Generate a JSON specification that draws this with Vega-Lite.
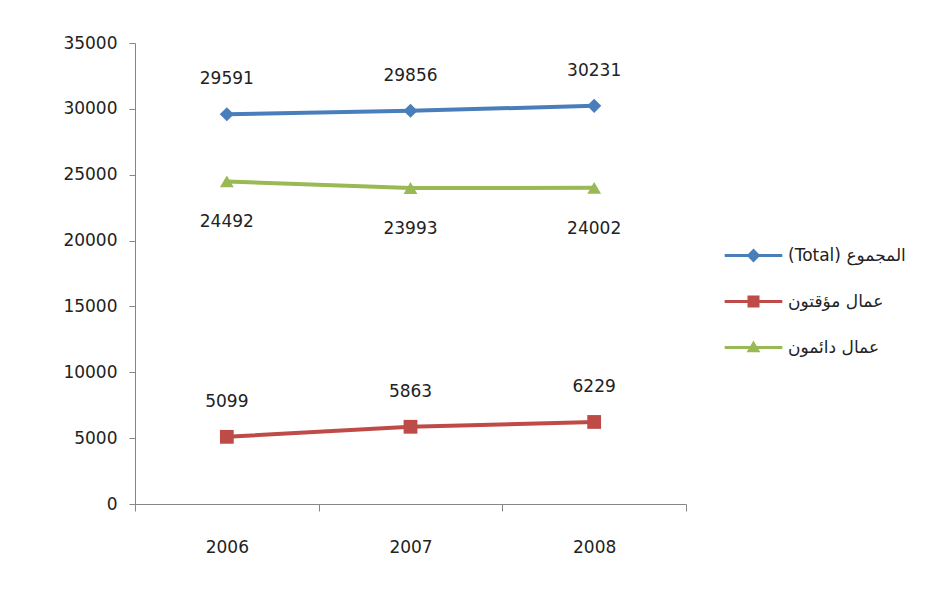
{
  "$schema": "https://vega.github.io/schema/vega-lite/v6.json",
  "width": 551,
  "height": 461,
  "autosize": {"type": "none"},
  "padding": {"left": 135, "top": 43, "right": 266, "bottom": 103},
  "background": "white",
  "config": {
    "view": {"stroke": null},
    "font": "DejaVu Sans",
    "axis": {"labelFont": "DejaVu Sans", "labelFontSize": 17, "labelColor": "#222", "domainColor": "#868686", "tickColor": "#868686", "grid": false, "title": null}
  },
  "data": {
    "values": [
      {"year": "2006", "series": "(Total) المجموع", "value": 29591},
      {"year": "2007", "series": "(Total) المجموع", "value": 29856},
      {"year": "2008", "series": "(Total) المجموع", "value": 30231},
      {"year": "2006", "series": "عمال مؤقتون", "value": 5099},
      {"year": "2007", "series": "عمال مؤقتون", "value": 5863},
      {"year": "2008", "series": "عمال مؤقتون", "value": 6229},
      {"year": "2006", "series": "عمال دائمون", "value": 24492},
      {"year": "2007", "series": "عمال دائمون", "value": 23993},
      {"year": "2008", "series": "عمال دائمون", "value": 24002}
    ]
  },
  "encoding": {
    "x": {"field": "year", "type": "nominal", "scale": {"type": "band", "paddingInner": 0, "paddingOuter": 0},
      "axis": {"labelAngle": 0, "tickBand": "extent", "tickSize": 7, "labelPadding": 28, "domainWidth": 1}},
    "y": {"field": "value", "type": "quantitative", "scale": {"domain": [0, 35000], "nice": false},
      "axis": {"values": [0, 5000, 10000, 15000, 20000, 25000, 30000, 35000], "tickSize": 6, "labelPadding": 12, "format": "d"}},
    "color": {"field": "series", "type": "nominal",
      "scale": {"domain": ["(Total) المجموع", "عمال مؤقتون", "عمال دائمون"], "range": ["#4A7EBB", "#BE4B48", "#98B954"]},
      "legend": {
        "title": null, "orient": "none", "legendX": 610, "legendY": 204,
        "symbolSize": 144, "labelOffset": 26, "rowPadding": 28, "padding": 0,
        "symbolStrokeWidth": 0, "symbolOpacity": 1,
        "labelFont": "DejaVu Sans", "labelFontSize": 17, "labelColor": "#222"
      }}
  },
  "layer": [
    {
      "mark": {"type": "point", "filled": true, "opacity": 0, "size": 10},
      "encoding": {
        "shape": {"field": "series", "type": "nominal",
          "scale": {"domain": ["(Total) المجموع", "عمال مؤقتون", "عمال دائمون"],
            "range": ["M-4.8,-0.25H4.8V0.25H-4.8Z M0,-1.15L1.15,0L0,1.15L-1.15,0Z", "M-4.8,-0.25H4.8V0.25H-4.8Z M-1,-1H1V1H-1Z", "M-4.8,-0.25H4.8V0.25H-4.8Z M0,-1.15L1.15,0.8H-1.15Z"]},
          "legend": {
            "title": null, "orient": "none", "legendX": 610, "legendY": 204,
            "symbolSize": 144, "labelOffset": 26, "rowPadding": 28, "padding": 0,
            "symbolStrokeWidth": 0, "symbolOpacity": 1,
            "labelFont": "DejaVu Sans", "labelFontSize": 17, "labelColor": "#222"
          }}
      }
    },
    {
      "mark": {"type": "line", "strokeWidth": 4}
    },
    {
      "transform": [{"filter": "datum.series === '(Total) المجموع'"}],
      "mark": {"type": "point", "filled": true, "opacity": 1, "size": 200, "shape": "diamond"}
    },
    {
      "transform": [{"filter": "datum.series === 'عمال مؤقتون'"}],
      "mark": {"type": "point", "filled": true, "opacity": 1, "size": 190, "shape": "square"}
    },
    {
      "transform": [{"filter": "datum.series === 'عمال دائمون'"}],
      "mark": {"type": "point", "filled": true, "opacity": 1, "size": 190, "shape": "triangle-up"}
    },
    {
      "transform": [{"filter": "datum.series !== 'عمال دائمون'"}],
      "mark": {"type": "text", "dy": -35, "fontSize": 17, "font": "DejaVu Sans"},
      "encoding": {"text": {"field": "value", "type": "quantitative", "format": "d"}, "color": {"value": "#222"}}
    },
    {
      "transform": [{"filter": "datum.series === 'عمال دائمون'"}],
      "mark": {"type": "text", "dy": 41, "fontSize": 17, "font": "DejaVu Sans"},
      "encoding": {"text": {"field": "value", "type": "quantitative", "format": "d"}, "color": {"value": "#222"}}
    }
  ]
}
